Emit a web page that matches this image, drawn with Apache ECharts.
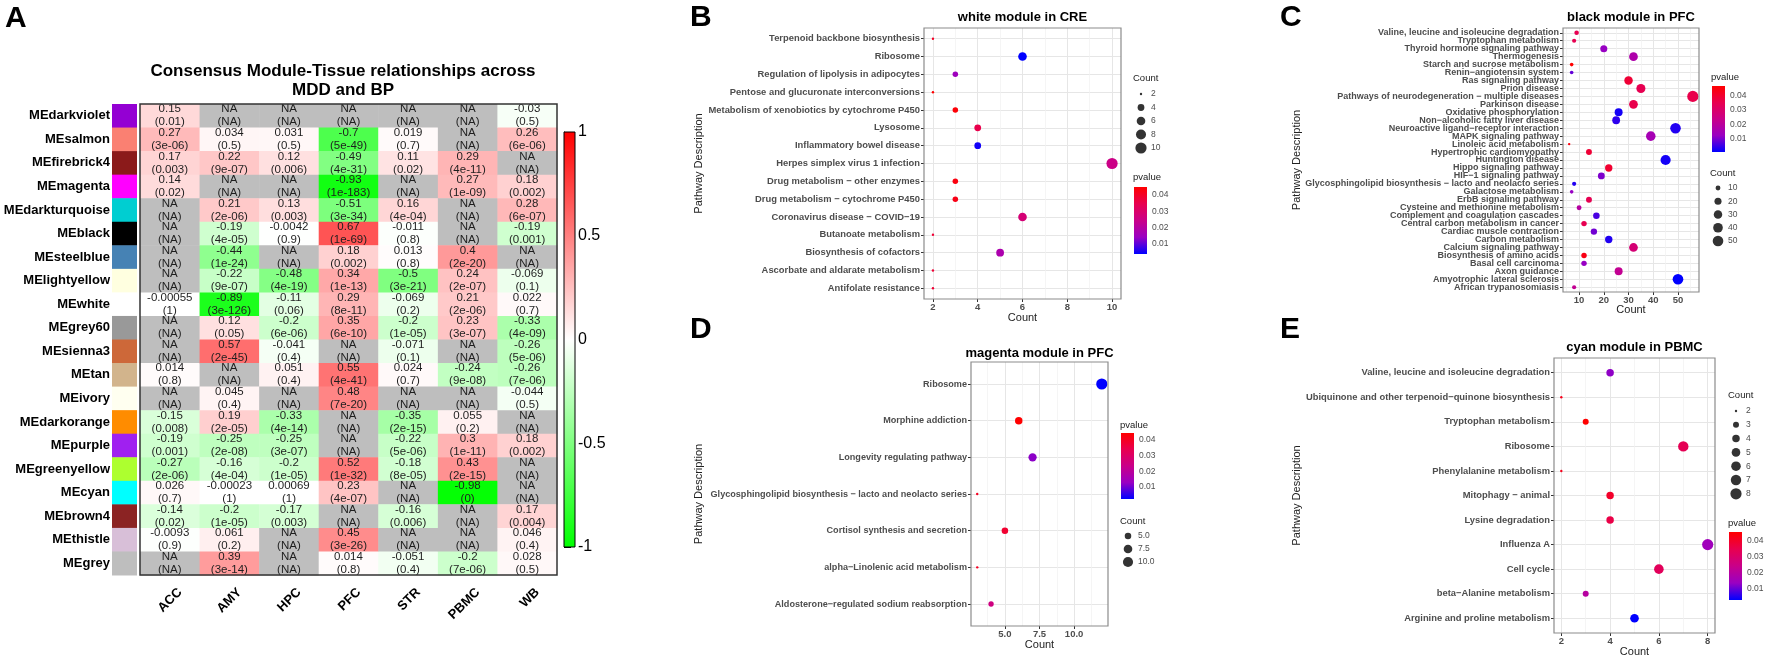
<!DOCTYPE html>
<html><head><meta charset="utf-8">
<script src="https://cdn.jsdelivr.net/npm/echarts@6/dist/echarts.min.js"></script>
<style>html,body{margin:0;padding:0;background:#fff}#c{width:1772px;height:658px}</style>
</head><body><div id="c"></div>
<script>
const FONT = '"Liberation Sans", Arial, Helvetica, sans-serif';
const NA = null;

// ---------- Panel A data ----------
const modules = ['MEdarkviolet','MEsalmon','MEfirebrick4','MEmagenta','MEdarkturquoise','MEblack','MEsteelblue','MElightyellow','MEwhite','MEgrey60','MEsienna3','MEtan','MEivory','MEdarkorange','MEpurple','MEgreenyellow','MEcyan','MEbrown4','MEthistle','MEgrey'];
const moduleColors = ['#9400D3','#FA8072','#8B1A1A','#FF00FF','#00CED1','#000000','#4682B4','#FFFFE0','#FFFFFF','#999999','#CD6839','#D2B48C','#FFFFF0','#FF8C00','#A020F0','#ADFF2F','#00FFFF','#8B2323','#D8BFD8','#BEBEBE'];
const tissues = ['ACC','AMY','HPC','PFC','STR','PBMC','WB'];

const corACC  = [0.15,0.27,0.17,0.14,NA,NA,NA,NA,-0.00055,NA,NA,0.014,NA,-0.15,-0.19,-0.27,0.026,-0.14,-0.0093,NA];
const pACC    = ['0.01','3e-06','0.003','0.02',NA,NA,NA,NA,'1',NA,NA,'0.8',NA,'0.008','0.001','2e-06','0.7','0.02','0.9',NA];
const corAMY  = [NA,0.034,0.22,NA,0.21,-0.19,-0.44,-0.22,-0.89,0.12,0.57,NA,0.045,0.19,-0.25,-0.16,-0.00023,-0.2,0.061,0.39];
const pAMY    = [NA,'0.5','9e-07',NA,'2e-06','4e-05','1e-24','9e-07','3e-126','0.05','2e-45',NA,'0.4','2e-05','2e-08','4e-04','1','1e-05','0.2','3e-14'];
const corHPC  = [NA,0.031,0.12,NA,0.13,-0.0042,NA,-0.48,-0.11,-0.2,-0.041,0.051,NA,-0.33,-0.25,-0.2,0.00069,-0.17,NA,NA];
const pHPC    = [NA,'0.5','0.006',NA,'0.003','0.9',NA,'4e-19','0.06','6e-06','0.4','0.4',NA,'4e-14','3e-07','1e-05','1','0.003',NA,NA];
const corPFC  = [NA,-0.7,-0.49,-0.93,-0.51,0.67,0.18,0.34,0.29,0.35,NA,0.55,0.48,NA,NA,0.52,0.23,NA,0.45,0.014];
const pPFC    = [NA,'5e-49','4e-31','1e-183','3e-34','1e-69','0.002','1e-13','8e-11','6e-10',NA,'4e-41','7e-20',NA,NA,'1e-32','4e-07',NA,'3e-26','0.8'];
const corSTR  = [NA,0.019,0.11,NA,0.16,-0.011,0.013,-0.5,-0.069,-0.2,-0.071,0.024,NA,-0.35,-0.22,-0.18,NA,-0.16,NA,-0.051];
const pSTR    = [NA,'0.7','0.02',NA,'4e-04','0.8','0.8','3e-21','0.2','1e-05','0.1','0.7',NA,'2e-15','5e-06','8e-05',NA,'0.006',NA,'0.4'];
const corPBMC = [NA,NA,0.29,0.27,NA,NA,0.4,0.24,0.21,0.23,NA,-0.24,NA,0.055,0.3,0.43,-0.98,NA,NA,-0.2];
const pPBMC   = [NA,NA,'4e-11','1e-09',NA,NA,'2e-20','2e-07','2e-06','3e-07',NA,'9e-08',NA,'0.2','1e-11','2e-15','0',NA,NA,'7e-06'];
const corWB   = [-0.03,0.26,NA,0.18,0.28,-0.19,NA,-0.069,0.022,-0.33,-0.26,-0.26,-0.044,NA,0.18,NA,NA,0.17,0.046,0.028];
const pWB     = ['0.5','6e-06',NA,'0.002','6e-07','0.001',NA,'0.1','0.7','4e-09','5e-06','7e-06','0.5',NA,'0.002',NA,NA,'0.004','0.4','0.5'];
const corCols = [corACC,corAMY,corHPC,corPFC,corSTR,corPBMC,corWB];
const pCols   = [pACC,pAMY,pHPC,pPFC,pSTR,pPBMC,pWB];
const corBarTicks = [-1, 1, 0.5]; // min, max, interval

// ---------- Panel B: white module in CRE ----------
const bTerms = ['Terpenoid backbone biosynthesis','Ribosome','Regulation of lipolysis in adipocytes','Pentose and glucuronate interconversions','Metabolism of xenobiotics by cytochrome P450','Lysosome','Inflammatory bowel disease','Herpes simplex virus 1 infection','Drug metabolism − other enzymes','Drug metabolism − cytochrome P450','Coronavirus disease − COVID−19','Butanoate metabolism','Biosynthesis of cofactors','Ascorbate and aldarate metabolism','Antifolate resistance'];
const bCount = [2,6,3,2,3,4,4,10,3,3,6,2,5,2,2];
const bP     = [0.040,0.0039,0.015,0.0449,0.044,0.035,0.005,0.025,0.043,0.042,0.028,0.038,0.018,0.038,0.038];
const bTicks = [2,4,6,8,10], bMinor = [3,5,7,9], bSizeLegend = [2,4,6,8,10];

// ---------- Panel C: black module in PFC ----------
const cTerms = ['Valine, leucine and isoleucine degradation','Tryptophan metabolism','Thyroid hormone signaling pathway','Thermogenesis','Starch and sucrose metabolism','Renin−angiotensin system','Ras signaling pathway','Prion disease','Pathways of neurodegeneration − multiple diseases','Parkinson disease','Oxidative phosphorylation','Non−alcoholic fatty liver disease','Neuroactive ligand−receptor interaction','MAPK signaling pathway','Linoleic acid metabolism','Hypertrophic cardiomyopathy','Huntington disease','Hippo signaling pathway','HIF−1 signaling pathway','Glycosphingolipid biosynthesis − lacto and neolacto series','Galactose metabolism','ErbB signaling pathway','Cysteine and methionine metabolism','Complement and coagulation cascades','Central carbon metabolism in cancer','Cardiac muscle contraction','Carbon metabolism','Calcium signaling pathway','Biosynthesis of amino acids','Basal cell carcinoma','Axon guidance','Amyotrophic lateral sclerosis','African trypanosomiasis'];
const cCount = [9,8,20,32,7,7,30,35,56,32,26,25,49,39,6,14,45,22,19,8,7,14,10,17,12,16,22,32,12,12,26,50,8];
const cP     = [0.035,0.035,0.012,0.017,0.047,0.008,0.039,0.035,0.036,0.036,0.002,0.004,0.003,0.015,0.045,0.039,0.002,0.040,0.010,0.003,0.012,0.035,0.019,0.006,0.035,0.009,0.003,0.028,0.044,0.012,0.022,0.0005,0.022];
const cTicks = [10,20,30,40,50], cMinor = [5,15,25,35,45,55], cSizeLegend = [10,20,30,40,50];

// ---------- Panel D: magenta module in PFC ----------
const dTerms = ['Ribosome','Morphine addiction','Longevity regulating pathway','Glycosphingolipid biosynthesis − lacto and neolacto series','Cortisol synthesis and secretion','alpha−Linolenic acid metabolism','Aldosterone−regulated sodium reabsorption'];
const dCount = [12,6,7,3,5,3,4];
const dP     = [0.0024,0.0445,0.012,0.040,0.038,0.040,0.025];
const dTicks = [5,7.5,10], dMinor = [3.75,6.25,8.75,11.25], dSizeLegend = [5,7.5,10];

// ---------- Panel E: cyan module in PBMC ----------
const eTerms = ['Valine, leucine and isoleucine degradation','Ubiquinone and other terpenoid−quinone biosynthesis','Tryptophan metabolism','Ribosome','Phenylalanine metabolism','Mitophagy − animal','Lysine degradation','Influenza A','Cell cycle','beta−Alanine metabolism','Arginine and proline metabolism'];
const eCount = [4,2,3,7,2,4,4,8,6,3,5];
const eP     = [0.013,0.042,0.0456,0.034,0.042,0.040,0.036,0.015,0.033,0.020,0.0031];
const eTicks = [2,4,6,8], eMinor = [3,5,7], eSizeLegend = [2,3,4,5,6,7,8];

const pLegendTicks = [0.01,0.02,0.03,0.04];
const PCOL = ['#0000FF','#9A00C2','#C90089','#E8004F','#FF0000'];

// ---------- build ----------
const opt = {animation:false, backgroundColor:'#fff', grid:[], xAxis:[], yAxis:[], series:[], visualMap:[], graphic:[]};
const addGrid = g => (opt.grid.push(g), opt.grid.length-1);
const addX = a => (opt.xAxis.push(a), opt.xAxis.length-1);
const addY = a => (opt.yAxis.push(a), opt.yAxis.length-1);
function txt(x, y, t, st, rot){
  opt.graphic.push({type:'text', x, y, rotation: rot||0, silent:true, z:100,
    style:Object.assign({text:t, fontFamily:FONT, fill:'#000', fontSize:12, align:'left', verticalAlign:'middle', textAlign:'left', textVerticalAlign:'middle'}, st)});
}
const hidden = {show:false};

// Panel A: heatmap
const NA_COL = '#BEBEBE';
function heatColor(v){
  if (v === null) return NA_COL;
  const k = Math.round(255*(1-Math.min(1,Math.abs(v))));
  return v >= 0 ? `rgb(255,${k},${k})` : `rgb(${k},255,${k})`;
}
const gHeat = addGrid({left:140, top:104, width:417, height:471, show:true, borderColor:'#333', borderWidth:1.5, backgroundColor:'transparent', z:10});
const xh = addX({type:'category', gridIndex:gHeat, data:tissues, axisLine:hidden, axisTick:hidden, splitLine:hidden,
  axisLabel:{rotate:45, fontWeight:'bold', fontSize:13, color:'#000', margin:5, verticalAlign:'top', padding:[8,0,0,0], fontFamily:FONT}});
const yh = addY({type:'category', gridIndex:gHeat, data:modules, inverse:true, axisLine:hidden, axisTick:hidden, axisLabel:hidden, splitLine:hidden});
const cells = [];
tissues.forEach((t, ci) => modules.forEach((m, ri) => cells.push([ci, ri])));
opt.series.push({type:'custom', xAxisIndex:xh, yAxisIndex:yh, data:cells, z:2,
  renderItem(params, api){
    const ci = api.value(0), ri = api.value(1);
    const c = api.coord([ci, ri]); const s = api.size([1,1]);
    const v = corCols[ci][ri], p = pCols[ci][ri];
    const label = v === null ? 'NA\n(NA)' : String(v) + '\n(' + p + ')';
    return {type:'group', children:[
      {type:'rect', shape:{x:c[0]-s[0]/2, y:c[1]-s[1]/2, width:s[0]+0.5, height:s[1]+0.5}, style:{fill:heatColor(v)}},
      {type:'text', style:{text:label, x:c[0], y:c[1], align:'center', verticalAlign:'middle', textAlign:'center', textVerticalAlign:'middle', fontSize:11.5, lineHeight:13, fontFamily:FONT, fill:'#1e1e1e'}}
    ]};
  }});
// swatches + module labels
const gSw = addGrid({left:112, top:104, width:25, height:471});
const xs = addX({type:'category', gridIndex:gSw, data:['c'], show:false});
const ys = addY({type:'category', gridIndex:gSw, data:modules, inverse:true, axisLine:hidden, axisTick:hidden, splitLine:hidden,
  axisLabel:{fontWeight:'bold', fontSize:13, color:'#000', margin:2, fontFamily:FONT}});
opt.series.push({type:'custom', xAxisIndex:xs, yAxisIndex:ys, data:modules.map((m,i)=>[0,i]),
  renderItem(params, api){
    const c = api.coord([0, api.value(1)]); const s = api.size([1,1]);
    return {type:'rect', shape:{x:c[0]-s[0]/2, y:c[1]-s[1]/2, width:s[0], height:s[1]+0.5}, style:{fill:moduleColors[params.dataIndex]}};
  }});
// correlation colour bar
const gCb = addGrid({left:564, top:132, width:11, height:415});
const xcb = addX({type:'value', gridIndex:gCb, min:0, max:1, show:false});
const ycb = addY({type:'value', gridIndex:gCb, min:corBarTicks[0], max:corBarTicks[1], interval:corBarTicks[2], position:'right',
  axisLine:{show:true, lineStyle:{color:'#000', width:1}}, axisTick:{show:true, length:7, lineStyle:{color:'#000', width:1}},
  axisLabel:{fontSize:16, color:'#000', margin:3, fontFamily:FONT}, splitLine:hidden});
opt.series.push({type:'custom', xAxisIndex:xcb, yAxisIndex:ycb, data:[[corBarTicks[0], corBarTicks[1]]],
  renderItem(params, api){
    const a = api.coord([0, api.value(1)]), b = api.coord([1, api.value(0)]);
    return {type:'rect', shape:{x:a[0], y:a[1], width:b[0]-a[0], height:b[1]-a[1]},
      style:{fill:new echarts.graphic.LinearGradient(0,0,0,1,[{offset:0,color:'#FF0000'},{offset:0.5,color:'#FFFFFF'},{offset:1,color:'#00FF00'}]), stroke:'#000', lineWidth:1}};
  }});
txt(5, 19, 'A', {fontSize:30, fontWeight:'bold'});
txt(343, 71, 'Consensus Module-Tissue relationships across', {fontSize:17, fontWeight:'bold', align:'center', textAlign:'center'});
txt(343, 90, 'MDD and BP', {fontSize:17, fontWeight:'bold', align:'center', textAlign:'center'});

// Dot panels
const PSTOPS = PCOL.slice().reverse().map((c,i,a)=>({offset:i/(a.length-1), color:c}));
function dotPanel(P){
  const cmin = Math.min(...P.counts), cmax = Math.max(...P.counts);
  const pad = 0.05*(cmax-cmin);
  const xmin = cmin-pad, xmax = cmax+pad;
  const pmin = Math.min(...P.pvals), pmax = Math.max(...P.pvals);
  const n = P.terms.length, idx = P.terms.map((_,i)=>i);
  const labelVals = [-0.6].concat(idx, [n-0.4]); // edge entries are blank and hidden
  const sz = v => 2.4 + 8.8*Math.sqrt(Math.max(0,(v-cmin)/(cmax-cmin)));
  const g = addGrid({left:P.left, top:P.top, width:P.width, height:P.height, show:true, borderColor:'#8c8c8c', borderWidth:1.2, backgroundColor:'transparent', z:10});
  const xi = addX({type:'value', gridIndex:g, min:xmin, max:xmax, position:'bottom', axisLine:{show:false, onZero:false},
    axisTick:{show:true, length:3, customValues:P.xticks, lineStyle:{color:'#333'}},
    axisLabel:{customValues:P.xticks, showMinLabel:true, showMaxLabel:true, fontSize:9.5, fontWeight:'bold', color:'#4d4d4d', margin:3, fontFamily:FONT, formatter:P.xfmt || (v=>String(v))},
    splitLine:{show:true, lineStyle:{color:'#e6e6e6', width:1}}});
  addX({type:'value', gridIndex:g, min:xmin, max:xmax, position:'top', axisLine:{show:false, onZero:false},
    axisTick:{show:false, customValues:P.xminor}, axisLabel:{show:false, customValues:P.xminor},
    splitLine:{show:true, lineStyle:{color:'#f0f0f0', width:0.7}}});
  const yi = addY({type:'value', gridIndex:g, inverse:true, min:-0.6, max:n-0.4, axisLine:{show:false, onZero:false},
    axisTick:{show:true, length:3, customValues:idx, lineStyle:{color:'#333'}},
    axisLabel:{customValues:labelVals, showMinLabel:false, showMaxLabel:false, hideOverlap:false,
      formatter:v=>{const i=Math.round(v); return (Math.abs(v-i)<1e-6 && i>=0 && i<n) ? P.terms[i] : '';},
      fontSize:P.fs, fontWeight:'bold', color:'#4d4d4d', margin:4, fontFamily:FONT},
    splitLine:{show:true, lineStyle:{color:'#e6e6e6', width:1}}});
  const si = opt.series.length;
  opt.series.push({type:'scatter', xAxisIndex:xi, yAxisIndex:yi, z:3, data:P.counts.map((c,i)=>[c,i,P.pvals[i]]),
    symbolSize:v=>sz(v[0]), itemStyle:{opacity:1}});
  opt.visualMap.push({type:'continuous', show:false, seriesIndex:si, dimension:2, min:pmin, max:pmax, inRange:{color:PCOL}});
  // texts
  txt(P.letter[1], P.letter[2], P.letter[0], {fontSize:30, fontWeight:'bold'});
  txt(P.left+P.width/2, P.titleY, P.title, {fontSize:13, fontWeight:'bold', align:'center', textAlign:'center'});
  txt(P.left+P.width/2, P.countY, 'Count', {fontSize:11, fill:'#222', align:'center', textAlign:'center'});
  txt(P.ylabX, P.top+P.height/2, 'Pathway Description', {fontSize:11, fill:'#222', align:'center', textAlign:'center'}, Math.PI/2);
  // size legend
  const L = P.sizeLeg, nl = P.sizeVals.length;
  txt(L.x-1, L.titleY, 'Count', {fontSize:9.5, fill:'#222'});
  const gs = addGrid({left:L.x, top:L.y0-L.step/2, width:14, height:L.step*nl});
  const xl = addX({type:'value', gridIndex:gs, min:0, max:1, show:false});
  const yl = addY({type:'category', gridIndex:gs, data:P.sizeVals.map(v=>P.legFmt?P.legFmt(v):String(v)), inverse:true, position:'right',
    axisLine:hidden, axisTick:hidden, splitLine:hidden, axisLabel:{fontSize:8.5, color:'#4d4d4d', margin:3, fontFamily:FONT}});
  opt.series.push({type:'scatter', xAxisIndex:xl, yAxisIndex:yl, data:P.sizeVals.map((v,i)=>[0.5,i,v]), symbolSize:v=>sz(v[2]), itemStyle:{color:'#000'}});
  // p-value colour bar
  const C = P.pLeg;
  txt(C.x-1, C.titleY, 'pvalue', {fontSize:9.5, fill:'#222'});
  const gp = addGrid({left:C.x, top:C.y, width:13, height:C.h});
  const xp = addX({type:'value', gridIndex:gp, min:0, max:1, show:false});
  const yp = addY({type:'value', gridIndex:gp, min:pmin, max:pmax, position:'right', axisLine:hidden,
    axisTick:{show:true, inside:true, length:3, customValues:pLegendTicks, lineStyle:{color:'#fff'}},
    axisLabel:{customValues:pLegendTicks, formatter:v=>v.toFixed(2), fontSize:8.5, color:'#4d4d4d', margin:5, fontFamily:FONT}, splitLine:hidden});
  opt.series.push({type:'custom', xAxisIndex:xp, yAxisIndex:yp, z:1, data:[[pmin,pmax]],
    renderItem(params, api){
      const a = api.coord([0, api.value(1)]), b = api.coord([1, api.value(0)]);
      return {type:'rect', shape:{x:a[0], y:a[1], width:b[0]-a[0], height:b[1]-a[1]}, style:{fill:new echarts.graphic.LinearGradient(0,0,0,1,PSTOPS)}};
    }});
}

dotPanel({terms:bTerms, counts:bCount, pvals:bP, xticks:bTicks, xminor:bMinor, sizeVals:bSizeLegend, fs:9.4,
  left:924, top:28, width:197, height:271, letter:['B',690,18], title:'white module in CRE', titleY:17, countY:318, ylabX:699,
  sizeLeg:{x:1134, y0:94, step:13.5, titleY:78}, pLeg:{x:1134, y:187, h:67, titleY:177}});
dotPanel({terms:cTerms, counts:cCount, pvals:cP, xticks:cTicks, xminor:cMinor, sizeVals:cSizeLegend, fs:9.0,
  left:1563, top:28, width:136, height:264, letter:['C',1280,18], title:'black module in PFC', titleY:17, countY:310, ylabX:1297,
  sizeLeg:{x:1711, y0:188, step:13.25, titleY:173}, pLeg:{x:1712, y:86, h:66, titleY:77}});
dotPanel({terms:dTerms, counts:dCount, pvals:dP, xticks:dTicks, xminor:dMinor, sizeVals:dSizeLegend, fs:9.1, xfmt:v=>v.toFixed(1), legFmt:v=>v.toFixed(1),
  left:971, top:362, width:137, height:264, letter:['D',690,330], title:'magenta module in PFC', titleY:353, countY:645, ylabX:699,
  sizeLeg:{x:1121, y0:536, step:13, titleY:521}, pLeg:{x:1121, y:433, h:66, titleY:425}});
dotPanel({terms:eTerms, counts:eCount, pvals:eP, xticks:eTicks, xminor:eMinor, sizeVals:eSizeLegend, fs:9.4,
  left:1554, top:358, width:161, height:275, letter:['E',1280,330], title:'cyan module in PBMC', titleY:347, countY:652, ylabX:1297,
  sizeLeg:{x:1729, y0:411, step:13.8, titleY:395}, pLeg:{x:1729, y:532, h:68, titleY:523}});

const chart = echarts.init(document.getElementById('c'), null, {renderer:'canvas'});
chart.setOption(opt);
</script></body></html>
